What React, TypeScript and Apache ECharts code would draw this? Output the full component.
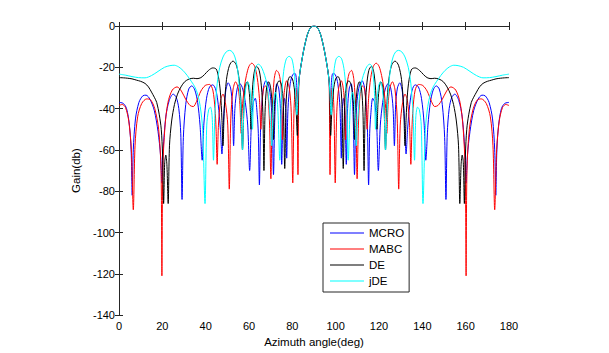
import React, { useEffect, useRef } from "react";
import * as echarts from "echarts";

const seriesNames = ["MCRO", "MABC", "DE", "jDE"];
const seriesColors = ["#0000ff", "#ff0000", "#000000", "#00ffff"];

// shared main beam around 90 deg
const mainLobe: [number, number][] = [
  [83, -27], [83.5, -22.5], [84, -19], [85, -13], [86, -8], [87, -4], [88, -1.5], [89, -0.3], [90, 0],
  [91, -0.3], [92, -1.5], [93, -4], [94, -8], [95, -13], [96, -19], [96.5, -22.5], [97, -27],
];

const mcroLeft: [number, number][] = [
  [0, -37], [2, -37.5], [3.5, -40], [4.8, -48], [5.6, -60], [6.1, -82], [6.6, -60], [7.6, -45], [9.2, -37], [11, -33.8],
  [12.5, -33.5], [14.3, -35.5], [16.3, -41], [18, -51], [19.2, -63], [19.8, -76], [20.4, -60], [21.6, -44], [23.2, -36],
  [25, -33], [26.4, -34.5], [27.6, -40], [28.5, -52], [29.1, -84], [29.7, -54], [30.8, -38], [32.2, -30.5], [33.6, -29],
  [35, -31], [36.3, -37], [37.4, -48], [38.4, -65], [39.2, -47], [40.4, -35], [41.8, -29.5], [43.3, -28.5], [44.7, -31],
  [45.8, -38], [46.8, -50], [47.5, -62], [48.2, -46], [49.2, -32], [50.4, -27.5], [51.5, -30], [52.3, -38], [52.9, -58],
  [53.5, -40], [54.6, -30], [55.9, -28], [57.1, -30.5], [58.3, -37], [59.4, -48], [60.3, -70], [61.1, -47], [62, -37],
  [62.9, -35], [63.8, -43], [64.3, -52], [64.8, -77], [65.4, -48], [66.5, -31], [67.8, -26.5], [69, -28.5], [70.1, -36],
  [70.8, -50], [71.3, -72], [71.9, -45], [72.8, -28], [73.7, -30], [74.5, -40], [75.1, -67], [75.7, -42], [76.4, -35],
  [77, -42], [77.4, -64], [78, -40], [79, -28], [80.2, -23.5], [81.3, -23], [82, -28], [82.5, -42],
];
const mcroRight: [number, number][] = [
  [97.5, -42], [98, -28], [98.7, -23], [99.8, -23.5], [101, -28], [102, -40], [102.6, -64], [103, -42], [103.6, -35],
  [104.3, -42], [104.9, -67], [105.5, -40], [106.3, -30], [107.2, -28], [108.1, -45], [108.7, -72], [109.2, -50],
  [109.9, -36], [111, -28.5], [112.2, -26.5], [113.5, -31], [114.6, -48], [115.2, -77], [115.7, -52], [116.2, -43],
  [117.1, -35], [118, -37], [118.9, -47], [119.7, -70], [120.6, -48], [121.7, -37], [122.9, -30.5], [124.1, -28],
  [125.4, -30], [126.5, -40], [127.1, -58], [127.7, -38], [128.5, -30], [129.6, -27.5], [130.8, -32], [131.8, -46],
  [132.5, -62], [133.2, -50], [134.2, -38], [135.3, -31], [136.7, -28.5], [138.2, -29.5], [139.6, -35], [140.8, -47],
  [141.6, -65], [142.6, -48], [143.7, -37], [145, -31], [146.4, -29], [147.8, -30.5], [149.2, -38], [150.3, -54],
  [150.9, -84], [151.5, -52], [152.4, -40], [153.6, -34.5], [155, -33], [156.8, -36], [158.4, -44], [159.6, -60],
  [160.2, -76], [160.8, -63], [162, -51], [163.7, -41], [165.7, -35.5], [167.5, -33.5], [169, -33.8], [170.8, -37],
  [172.4, -45], [173.4, -60], [173.9, -82], [174.4, -60], [175.2, -48], [176.5, -40], [178, -37.5], [180, -37],
];

const mabcLeft: [number, number][] = [
  [0, -38.5], [1.5, -38], [3, -39.5], [4.5, -46], [5.7, -60], [6.6, -89], [7.4, -58], [8.6, -44], [10.5, -37.5],
  [12.8, -35.3], [14.6, -35.8], [16.5, -40], [18.3, -50], [19.4, -70], [19.8, -121], [20.2, -70], [21.2, -49],
  [22.6, -37], [24.6, -31], [26.8, -29.5], [28.8, -31.5], [30.8, -35.5], [32.8, -38.5], [34.3, -39], [35.8, -36.5],
  [37.8, -31.5], [39.8, -28.8], [41.8, -28.3], [43.3, -31], [44.3, -40], [44.8, -50], [45.3, -67], [45.9, -48],
  [46.9, -36], [48, -33], [49.1, -37], [50.2, -48], [50.9, -79], [51.6, -45], [52.6, -31], [53.8, -27], [55, -30],
  [55.8, -38], [56.4, -52], [56.9, -40], [57.8, -30], [58.8, -24], [60, -19.5], [61.3, -18], [62.6, -19.5], [63.8, -25],
  [64.8, -35], [65.5, -50], [66, -38], [66.8, -30], [67.8, -29], [68.8, -34], [69.5, -48], [70.1, -74], [70.7, -42],
  [71.6, -26], [72.7, -21.5], [73.8, -23], [74.8, -29], [75.5, -55], [76.2, -33], [77.4, -26.5], [78.6, -30],
  [79.5, -42], [80.2, -76], [80.8, -40], [81.5, -30], [82.1, -36], [82.6, -72],
];
const mabcRight: [number, number][] = [
  [97.4, -72], [97.9, -36], [98.5, -30], [99.2, -40], [99.8, -76], [100.5, -42], [101.4, -30], [102.6, -26.5],
  [103.8, -33], [104.5, -55], [105.2, -29], [106.2, -23], [107.3, -21.5], [108.4, -26], [109.3, -42], [109.9, -74],
  [110.5, -48], [111.2, -34], [112.2, -29], [113.2, -30], [114, -38], [114.5, -50], [115.2, -35], [116.2, -25],
  [117.4, -19.5], [118.7, -18], [120, -19.5], [121.2, -24], [122.2, -30], [123.1, -40], [123.6, -52], [124.2, -38],
  [125, -30], [126.2, -27], [127.4, -31], [128.4, -45], [129.1, -79], [129.8, -48], [130.9, -37], [132, -33],
  [133.1, -36], [134.1, -48], [134.7, -67], [135.2, -50], [135.7, -40], [136.7, -31], [138.2, -28.3], [140.2, -28.8],
  [142.2, -31.5], [144.2, -36.5], [145.7, -39], [147.2, -38.5], [149.2, -35.5], [151.2, -31.5], [153.2, -29.5],
  [155.4, -31], [157.4, -37], [158.8, -49], [159.8, -70], [160.2, -121], [160.6, -70], [161.7, -50], [163.5, -40],
  [165.4, -35.8], [167.2, -35.3], [169.5, -37.5], [171.4, -44], [172.6, -58], [173.4, -89], [174.3, -60], [175.5, -46],
  [177, -39.5], [178.5, -38], [180, -38.5],
];

const deLeft: [number, number][] = [
  [0, -25], [2, -25.1], [4, -25.3], [6, -25.6], [8, -26.2], [10, -26.8], [12, -27.8], [13.6, -29.5], [15, -32],
  [16.3, -34.5], [17.4, -37], [18.6, -43], [19.5, -50], [20.1, -62], [20.6, -86], [21.1, -66], [21.6, -62.5],
  [22.1, -67], [22.7, -86], [23.3, -58], [24.3, -46], [25.6, -38], [27, -33], [28.6, -29.5], [30.3, -27], [32.3, -25.7],
  [34.3, -25.3], [36, -25.5], [37.8, -25], [39.5, -23.5], [41.3, -21.5], [43.3, -20.3], [44.8, -20.8], [45.8, -24],
  [46.8, -32], [47.5, -45], [48, -58], [48.6, -40], [49.6, -26], [51, -19], [52.6, -17], [54, -18.5], [55.2, -24],
  [56.2, -35], [57, -60], [57.7, -38], [58.3, -29], [59.2, -27], [60, -31], [60.5, -38], [60.9, -50], [61.4, -34],
  [62.3, -23], [63.5, -19.5], [64.7, -21.5], [65.7, -29], [66.4, -42], [66.9, -70], [67.4, -42], [68.1, -30],
  [69.1, -27], [70, -30], [70.8, -40], [71.3, -55], [71.8, -38], [72.7, -29], [73.9, -26.5], [75, -28.5], [75.8, -37],
  [76.5, -69], [77.1, -38], [77.9, -27], [78.9, -24.5], [80, -25.5], [81, -31], [81.8, -42], [82.3, -53], [82.7, -33],
];
const deRight: [number, number][] = [
  [97.3, -33], [97.7, -53], [98.2, -42], [99, -31], [100, -25.5], [101.1, -24.5], [102.1, -27], [102.9, -38],
  [103.5, -69], [104.2, -37], [105, -28.5], [106.1, -26.5], [107.3, -29], [108.2, -38], [108.7, -55], [109.2, -40],
  [110, -30], [110.9, -27], [111.9, -30], [112.6, -42], [113.1, -70], [113.6, -42], [114.3, -29], [115.3, -21.5],
  [116.5, -19.5], [117.7, -23], [118.6, -34], [119.1, -50], [119.5, -38], [120, -31], [120.8, -27], [121.7, -29],
  [122.3, -38], [123, -60], [123.8, -35], [124.8, -24], [126, -18.5], [127.4, -17], [129, -19], [130.4, -26],
  [131.4, -40], [132, -58], [132.5, -45], [133.2, -32], [134.2, -24], [135.2, -20.8], [136.7, -20.3], [138.7, -21.5],
  [140.5, -23.5], [142.2, -25], [144, -25.5], [145.7, -25.3], [147.7, -25.7], [149.7, -27], [151.4, -29.5], [153, -33],
  [154.4, -38], [155.7, -46], [156.7, -58], [157.3, -86], [157.9, -67], [158.4, -62.5], [158.9, -66], [159.4, -86],
  [159.9, -62], [160.5, -50], [161.4, -43], [162.6, -37], [163.7, -34.5], [165, -32], [166.4, -29.5], [168, -27.8],
  [170, -26.8], [172, -26.2], [174, -25.6], [176, -25.3], [178, -25.1], [180, -25],
];

const jdeLeft: [number, number][] = [
  [0, -23.3], [3, -23.8], [6, -24.5], [9, -25], [12, -25.1], [15, -24], [18, -22], [21, -20], [23.5, -19.2],
  [25.5, -19], [27.5, -19.8], [29.5, -21.5], [31.5, -24], [33.5, -27], [35, -29.5], [36.3, -33], [37.5, -39],
  [38.6, -50], [39.7, -86], [40.5, -48], [41.4, -40.5], [42.2, -39.3], [43, -44], [43.6, -65], [44.3, -42], [45.3, -28],
  [46.5, -20], [48, -15], [49.5, -12.5], [51, -11.8], [52.3, -12.5], [53.5, -15], [54.6, -20], [55.6, -30], [56.4, -45],
  [57, -60], [57.6, -42], [58.4, -31], [59.3, -27], [60.2, -29], [61, -38], [61.6, -50], [62.2, -30], [63.3, -19.5],
  [64.3, -18.5], [65.5, -19.5], [66.6, -22], [67.8, -26], [68.9, -33], [69.8, -45], [70.5, -58], [71.2, -38],
  [72.2, -32], [73.2, -38], [74.2, -65], [75, -35], [76, -22], [77.2, -16], [78.5, -14.7], [79.8, -16], [80.8, -22],
  [81.5, -32], [82.1, -43], [82.6, -33],
];
const jdeRight: [number, number][] = [
  [97.4, -33], [97.9, -43], [98.5, -32], [99.2, -22], [100.2, -16], [101.5, -14.7], [102.8, -16], [104, -22],
  [105, -35], [105.8, -65], [106.8, -38], [107.8, -32], [108.8, -38], [109.5, -58], [110.2, -45], [111.1, -33],
  [112.2, -26], [113.4, -22], [114.5, -19.5], [115.7, -18.5], [116.7, -19.5], [117.8, -30], [118.4, -50], [119, -38],
  [119.8, -29], [120.7, -27], [121.6, -31], [122.4, -42], [123, -60], [123.6, -45], [124.4, -30], [125.4, -20],
  [126.5, -15], [127.7, -12.5], [129, -11.8], [130.5, -12.5], [132, -15], [133.5, -20], [134.7, -28], [135.7, -42],
  [136.4, -65], [137, -44], [137.8, -39.3], [138.6, -40.5], [139.5, -48], [140.3, -86], [141.4, -50], [142.5, -39],
  [143.7, -33], [145, -29.5], [146.5, -27], [148.5, -24], [150.5, -21.5], [152.5, -19.8], [154.5, -19], [156.5, -19.2],
  [159, -20], [162, -22], [165, -24], [168, -25.1], [171, -25], [174, -24.5], [177, -23.8], [180, -23.3],
];

const FONT = "'Liberation Sans', Arial, Helvetica, sans-serif";

export default function App() {
  const ref = useRef<HTMLDivElement>(null);
  useEffect(() => {
    if (!ref.current) return;
    const chart = echarts.init(ref.current, undefined, { renderer: "svg" });
    const datasets = [
      [...mcroLeft, ...mainLobe, ...mcroRight],
      [...mabcLeft, ...mainLobe, ...mabcRight],
      [...deLeft, ...mainLobe, ...deRight],
      [...jdeLeft, ...mainLobe, ...jdeRight],
    ];
    const axisLine = { show: true, lineStyle: { color: "#262626", width: 1 } };
    const tick = { show: true, inside: true, length: 4, lineStyle: { color: "#262626" } };
    chart.setOption({
      animation: false,
      backgroundColor: "#ffffff",
      textStyle: { fontFamily: FONT },
      grid: { left: 119, top: 26, width: 390, height: 292, containLabel: false },
      xAxis: [
        {
          type: "value", min: 0, max: 180, interval: 20, position: "bottom",
          axisLine, axisTick: tick, splitLine: { show: false },
          axisLabel: { color: "#000", fontSize: 11, fontFamily: FONT, margin: 5 },
          name: "Azimuth angle(deg)", nameLocation: "middle", nameGap: 18,
          nameTextStyle: { color: "#000", fontSize: 11.5, fontFamily: FONT },
        },
        {
          type: "value", min: 0, max: 180, interval: 20, position: "top",
          axisLine, axisTick: tick, splitLine: { show: false }, axisLabel: { show: false },
        },
      ],
      yAxis: [
        {
          type: "value", min: -140, max: 0, interval: 20, position: "left",
          axisLine, axisTick: tick, splitLine: { show: false },
          axisLabel: { color: "#000", fontSize: 11, fontFamily: FONT, margin: 4 },
          name: "Gain(db)", nameLocation: "middle", nameRotate: 90, nameGap: 34,
          nameTextStyle: { color: "#000", fontSize: 11.5, fontFamily: FONT },
        },
        {
          type: "value", min: -140, max: 0, interval: 20, position: "right",
          axisLine, axisTick: tick, splitLine: { show: false }, axisLabel: { show: false },
        },
      ],
      legend: {
        orient: "vertical", left: 323, top: 223, icon: "rect", itemWidth: 34, itemHeight: 1, itemGap: 2,
        padding: [3, 5, 4, 7], borderColor: "#262626", borderWidth: 1, backgroundColor: "#fff",
        textStyle: { color: "#000", fontSize: 11.5, fontFamily: FONT, lineHeight: 14 },
        data: seriesNames,
      },
      series: seriesNames.map((name, i) => ({
        name, type: "line", data: datasets[i], showSymbol: false, symbol: "none",
        smooth: 0.3, color: seriesColors[i],
        lineStyle: { color: seriesColors[i], width: 1 },
        xAxisIndex: 0, yAxisIndex: 0, z: 2 + i,
      })),
    });
    return () => chart.dispose();
  }, []);
  return (
    <div
      ref={ref}
      style={{ position: "absolute", left: 0, top: 0, width: 609, height: 353, background: "#fff" }}
    />
  );
}
